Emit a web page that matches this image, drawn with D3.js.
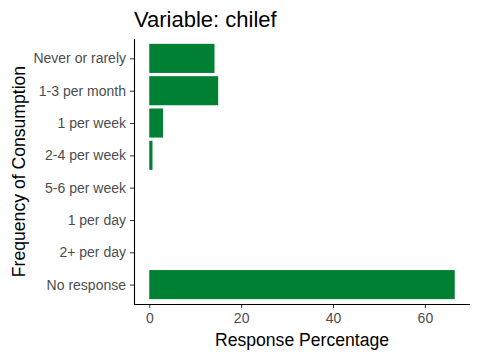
<!DOCTYPE html>
<html><head><meta charset="utf-8">
<script src="https://cdn.jsdelivr.net/npm/d3@7"></script>
<style>body{margin:0;background:#fff}svg{display:block}text{font-family:"Liberation Sans",Arial,sans-serif}</style>
</head><body>
<script>
const categories = ["Never or rarely","1-3 per month","1 per week","2-4 per week","5-6 per week","1 per day","2+ per day","No response"];
const percentages = [14.2, 15.0, 3.0, 0.7, 0, 0, 0, 66.5];
const xTicks = [0, 20, 40, 60];
const titleText = "Variable: chilef";
const xTitle = "Response Percentage";
const yTitle = "Frequency of Consumption";

const W = 480, H = 360;
const m = {left:134, right:10, top:39, bottom:56};
const pw = W - m.left - m.right, ph = H - m.top - m.bottom;
const svg = d3.select("body").append("svg").attr("width", W).attr("height", H);
const maxV = d3.max(percentages);
const x = d3.scaleLinear().domain([-0.05*maxV, maxV*1.05]).range([0, pw]);
// ggplot-like discrete scale: expansion 0.6 units each side, bar width 0.9 unit
const unit = ph / (categories.length - 1 + 1.2);
const y = d3.scalePoint().domain(categories).range([0.6*unit, ph - 0.6*unit]);
const g = svg.append("g").attr("transform", `translate(${m.left},${m.top})`);

g.selectAll("rect.bar").data(categories).enter().append("rect")
  .attr("class","bar")
  .attr("x", x(0))
  .attr("y", d => y(d) - 0.45*unit)
  .attr("height", 0.9*unit)
  .attr("width", (d,i) => x(percentages[i]) - x(0))
  .attr("fill", "#008033");

const xa = g.append("g").attr("transform", `translate(0,${ph})`)
  .call(d3.axisBottom(x).tickValues(xTicks).tickSize(4).tickPadding(3).tickSizeOuter(0));
const ya = g.append("g")
  .call(d3.axisLeft(y).tickSize(4).tickPadding(4).tickSizeOuter(0));
[xa, ya].forEach(a => {
  a.select(".domain").remove();
  a.selectAll(".tick line").attr("stroke", "#333333").attr("stroke-width", 1);
  a.selectAll(".tick text").attr("fill", "#4d4d4d").style("font-size", "14px");
});
xa.selectAll(".tick text").attr("dy", "0.85em");
g.append("line").attr("x1", 0).attr("x2", pw).attr("y1", ph+0.5).attr("y2", ph+0.5).attr("stroke","#000").attr("stroke-width",1.1);
g.append("line").attr("x1", 0.5).attr("x2", 0.5).attr("y1", 0).attr("y2", ph).attr("stroke","#000").attr("stroke-width",1.1);

svg.append("text").attr("x", m.left).attr("y", 27).style("font-size","22px").attr("fill","#000").text(titleText);
svg.append("text").attr("x", m.left + pw/2).attr("y", 346).attr("text-anchor","middle").style("font-size","17.6px").attr("fill","#000").text(xTitle);
svg.append("text").attr("transform", `translate(25,${m.top + ph/2}) rotate(-90)`).attr("text-anchor","middle").style("font-size","17.6px").attr("fill","#000").text(yTitle);
</script>
</body></html>
